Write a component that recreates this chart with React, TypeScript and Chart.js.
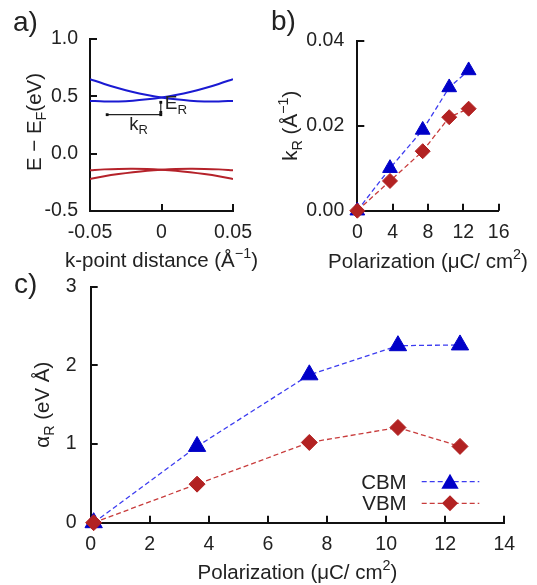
import React, { useEffect, useRef } from 'react';
import { Chart, registerables } from 'chart.js';

Chart.register(...registerables);

const FONT = "'Liberation Sans', Arial, Helvetica, sans-serif";
const TEXT = '#222222';
const AXIS = '#111111';
const BLUE = '#0000c8';
const RED = '#b22222';
const BLUE_LINE = '#3c3cf0';
const RED_LINE = '#c83c3c';
const BAND_BLUE = '#1a1ad2';
const BAND_RED = '#b5222a';

// ---------- a) band structure ----------
const kPoints = [-0.05, -0.04, -0.03, -0.02, -0.01, 0, 0.01, 0.02, 0.03, 0.04, 0.05];
const cbmBandA = [0.46, 0.456, 0.456, 0.462, 0.474, 0.49, 0.512, 0.538, 0.57, 0.608, 0.65];
const cbmBandB = [0.65, 0.608, 0.57, 0.538, 0.512, 0.49, 0.474, 0.462, 0.456, 0.456, 0.46];
const vbmBandA = [-0.22, -0.197, -0.178, -0.162, -0.149, -0.14, -0.134, -0.132, -0.133, -0.137, -0.145];
const vbmBandB = [-0.145, -0.137, -0.133, -0.132, -0.134, -0.14, -0.149, -0.162, -0.178, -0.197, -0.22];
const kRMarkerK = [-0.038, -0.0005];
const kRMarkerE = [0.34, 0.34];
const eRMarkerK = [-0.0005, -0.0005];
const eRMarkerE = [0.448, 0.36];
const aXTicks = [-0.05, 0, 0.05];
const aXTickLabels = ['-0.05', '0', '0.05'];
const aYTicks = [-0.5, 0, 0.5, 1.0];
const aYTickLabels = ['-0.5', '0.0', '0.5', '1.0'];

// ---------- b) k_R vs polarization ----------
const polarizationB = [0, 3.7, 7.4, 10.4, 12.6];
const kRCBM = [0, 0.01, 0.019, 0.029, 0.033];
const kRVBM = [0, 0.007, 0.014, 0.022, 0.024];
const bXTicks = [0, 4, 8, 12, 16];
const bXTickLabels = ['0', '4', '8', '12', '16'];
const bYTicks = [0, 0.02, 0.04];
const bYTickLabels = ['0.00', '0.02', '0.04'];

// ---------- c) alpha_R vs polarization ----------
const polarizationC = [0.1, 3.6, 7.4, 10.4, 12.5];
const alphaCBM = [0, 0.97, 1.88, 2.25, 2.26];
const alphaVBM = [0, 0.49, 1.02, 1.21, 0.97];
const cXTicks = [0, 2, 4, 6, 8, 10, 12, 14];
const cXTickLabels = ['0', '2', '4', '6', '8', '10', '12', '14'];
const cYTicks = [0, 1, 2, 3];
const cYTickLabels = ['0', '1', '2', '3'];
const legendLabels = ['CBM', 'VBM'];

type Seg = { t: string; s?: 'sub' | 'sup' };

const pts = (xs: number[], ys: number[]) => xs.map((x, i) => ({ x, y: ys[i] }));

function drawRich(
  ctx: CanvasRenderingContext2D,
  segs: Seg[],
  x: number,
  y: number,
  size: number,
  align: 'left' | 'center' | 'right',
  rotate = false
) {
  ctx.save();
  ctx.translate(x, y);
  if (rotate) ctx.rotate(-Math.PI / 2);
  const small = size * 0.7;
  let total = 0;
  const widths = segs.map((sg) => {
    ctx.font = `${sg.s ? small : size}px ${FONT}`;
    const w = ctx.measureText(sg.t).width;
    total += w;
    return w;
  });
  let cx = align === 'center' ? -total / 2 : align === 'right' ? -total : 0;
  ctx.fillStyle = TEXT;
  ctx.textAlign = 'left';
  ctx.textBaseline = 'alphabetic';
  segs.forEach((sg, i) => {
    ctx.font = `${sg.s ? small : size}px ${FONT}`;
    const dy = sg.s === 'sub' ? size * 0.25 : sg.s === 'sup' ? -size * 0.42 : 0;
    ctx.fillText(sg.t, cx, dy);
    cx += widths[i];
  });
  ctx.restore();
}

const inwardTicks = {
  id: 'inwardTicks',
  beforeDatasetsDraw(chart: any) {
    const { ctx, chartArea } = chart;
    const xs = chart.scales.x;
    const ys = chart.scales.y;
    ctx.save();
    ctx.strokeStyle = AXIS;
    ctx.lineWidth = 2;
    xs.ticks.forEach((t: any) => {
      const px = Math.round(xs.getPixelForValue(t.value));
      ctx.beginPath();
      ctx.moveTo(px, chartArea.bottom);
      ctx.lineTo(px, chartArea.bottom - 7);
      ctx.stroke();
    });
    ys.ticks.forEach((t: any) => {
      const py = Math.round(ys.getPixelForValue(t.value));
      ctx.beginPath();
      ctx.moveTo(chartArea.left, py);
      ctx.lineTo(chartArea.left + 7, py);
      ctx.stroke();
    });
    ctx.restore();
  },
};

function makeScale(
  axis: 'x' | 'y',
  min: number,
  max: number,
  values: number[],
  labels: string[],
  padding: number
) {
  return {
    type: 'linear',
    min,
    max,
    grid: { display: false, drawTicks: false },
    border: { display: true, color: AXIS, width: 2 },
    ticks: {
      color: TEXT,
      font: { family: FONT, size: 19.5 },
      padding,
      autoSkip: false,
      maxRotation: 0,
      callback: (_v: any, i: number) => labels[i],
    },
    afterBuildTicks: (s: any) => {
      s.ticks = values.map((v) => ({ value: v }));
    },
    afterFit: (s: any) => {
      if (axis === 'x') s.height = 40;
      else s.width = 60;
    },
  };
}

function baseOptions(padding: any, scales: any) {
  return {
    responsive: false,
    animation: false,
    devicePixelRatio: 1,
    events: [],
    layout: { padding },
    plugins: { legend: { display: false }, tooltip: { enabled: false } },
    scales,
  };
}

function drawTri(ctx: CanvasRenderingContext2D, x: number, y: number, r: number) {
  ctx.beginPath();
  ctx.moveTo(x, y - r);
  ctx.lineTo(x + 0.866 * r, y + 0.5 * r);
  ctx.lineTo(x - 0.866 * r, y + 0.5 * r);
  ctx.closePath();
  ctx.fill();
}

function drawDiamond(ctx: CanvasRenderingContext2D, x: number, y: number, r: number) {
  ctx.beginPath();
  ctx.moveTo(x - r, y);
  ctx.lineTo(x, y - r);
  ctx.lineTo(x + r, y);
  ctx.lineTo(x, y + r);
  ctx.closePath();
  ctx.fill();
}

export default function App() {
  const refA = useRef<HTMLCanvasElement>(null);
  const refB = useRef<HTMLCanvasElement>(null);
  const refC = useRef<HTMLCanvasElement>(null);

  useEffect(() => {
    const bandDs = (ys: number[], color: string) => ({
      data: pts(kPoints, ys),
      showLine: true,
      borderColor: color,
      borderWidth: 2,
      pointRadius: 0,
      tension: 0.35,
      fill: false,
    });
    const markerDs = (xs: number[], ys: number[]) => ({
      data: pts(xs, ys),
      showLine: true,
      borderColor: '#222',
      borderWidth: 1.2,
      pointStyle: 'rect',
      pointRadius: 2,
      pointBackgroundColor: '#111',
      pointBorderWidth: 0,
      clip: false,
    });

    const chartA = new Chart(refA.current as HTMLCanvasElement, {
      type: 'scatter',
      data: {
        datasets: [
          bandDs(cbmBandA, BAND_BLUE),
          bandDs(cbmBandB, BAND_BLUE),
          bandDs(vbmBandA, BAND_RED),
          bandDs(vbmBandB, BAND_RED),
          markerDs(kRMarkerK, kRMarkerE),
          markerDs(eRMarkerK, eRMarkerE),
        ] as any,
      },
      options: baseOptions(
        { left: 30, top: 39, right: 304, bottom: 334 },
        {
          x: makeScale('x', -0.05, 0.05, aXTicks, aXTickLabels, 10),
          y: makeScale('y', -0.5, 1.0, aYTicks, aYTickLabels, 12),
        }
      ) as any,
      plugins: [
        inwardTicks,
        {
          id: 'textA',
          afterDraw(chart: any) {
            const { ctx, chartArea } = chart;
            const xs = chart.scales.x;
            const ys = chart.scales.y;
            drawRich(ctx, [{ t: 'a)' }], 13, 31, 28, 'left');
            drawRich(ctx, [{ t: 'k-point distance (Å' }, { t: '−1', s: 'sup' }, { t: ')' }],
              (chartArea.left + chartArea.right) / 2, 267, 20.5, 'center');
            drawRich(ctx, [{ t: 'E − E' }, { t: 'F', s: 'sub' }, { t: '(eV)' }],
              40.5, 122, 20.5, 'center', true);
            drawRich(ctx, [{ t: 'k' }, { t: 'R', s: 'sub' }],
              xs.getPixelForValue(kRMarkerK[0]) + 22, ys.getPixelForValue(kRMarkerE[0]) + 15, 18.5, 'left');
            drawRich(ctx, [{ t: 'E' }, { t: 'R', s: 'sub' }],
              xs.getPixelForValue(eRMarkerK[0]) + 4, ys.getPixelForValue(eRMarkerE[1]) - 3, 19, 'left');
          },
        },
      ],
    });

    const polyDs = (xs: number[], ys: number[], line: string, fillC: string, style: string, r: number) => ({
      data: pts(xs, ys),
      showLine: true,
      borderColor: line,
      borderWidth: 1.3,
      borderDash: [5, 3],
      pointStyle: style,
      pointRadius: r,
      pointBackgroundColor: fillC,
      pointBorderColor: fillC,
      pointBorderWidth: 1,
      clip: false,
    });

    const chartB = new Chart(refB.current as HTMLCanvasElement, {
      type: 'scatter',
      data: {
        datasets: [
          polyDs(polarizationB, kRVBM, RED_LINE, RED, 'rectRot', 7.5),
          polyDs(polarizationB, kRCBM, BLUE_LINE, BLUE, 'triangle', 8.5),
        ] as any,
      },
      options: baseOptions(
        { left: 297.3, top: 40.7, right: 38.3, bottom: 334.3 },
        {
          x: makeScale('x', 0, 16, bXTicks, bXTickLabels, 10),
          y: makeScale('y', 0, 0.04, bYTicks, bYTickLabels, 13),
        }
      ) as any,
      plugins: [
        inwardTicks,
        {
          id: 'textB',
          afterDraw(chart: any) {
            const { ctx, chartArea } = chart;
            drawRich(ctx, [{ t: 'b)' }], 271, 30, 28, 'left');
            drawRich(ctx, [{ t: 'Polarization (μC/ cm' }, { t: '2', s: 'sup' }, { t: ')' }],
              (chartArea.left + chartArea.right) / 2, 268, 20.5, 'center');
            drawRich(ctx, [{ t: 'k' }, { t: 'R', s: 'sub' }, { t: ' (Å' }, { t: '−1', s: 'sup' }, { t: ')' }],
              297, (chartArea.top + chartArea.bottom) / 2, 20.5, 'center', true);
          },
        },
      ],
    });

    const chartC = new Chart(refC.current as HTMLCanvasElement, {
      type: 'scatter',
      data: {
        datasets: [
          polyDs(polarizationC, alphaVBM, RED_LINE, RED, 'rectRot', 8),
          polyDs(polarizationC, alphaCBM, BLUE_LINE, BLUE, 'triangle', 10),
        ] as any,
      },
      options: baseOptions(
        { left: 30.7, top: 286.7, right: 32.7, bottom: 22.3 },
        {
          x: makeScale('x', 0, 14, cXTicks, cXTickLabels, 10),
          y: makeScale('y', 0, 3, cYTicks, cYTickLabels, 14),
        }
      ) as any,
      plugins: [
        inwardTicks,
        {
          id: 'textC',
          afterDraw(chart: any) {
            const { ctx, chartArea } = chart;
            drawRich(ctx, [{ t: 'c)' }], 14, 293, 28, 'left');
            drawRich(ctx, [{ t: 'Polarization (μC/ cm' }, { t: '2', s: 'sup' }, { t: ')' }],
              (chartArea.left + chartArea.right) / 2, 579, 20.5, 'center');
            drawRich(ctx, [{ t: 'α' }, { t: 'R', s: 'sub' }, { t: ' (eV Å)' }],
              49, (chartArea.top + chartArea.bottom) / 2, 20.5, 'center', true);
            // legend
            const rows = [
              { label: legendLabels[0], y: 481.7, line: BLUE_LINE, fill: BLUE, tri: true },
              { label: legendLabels[1], y: 503.3, line: RED_LINE, fill: RED, tri: false },
            ];
            rows.forEach((r) => {
              drawRich(ctx, [{ t: r.label }], 406.7, r.y + 7, 20.5, 'right');
              ctx.save();
              ctx.strokeStyle = r.line;
              ctx.lineWidth = 1.3;
              ctx.setLineDash([5, 3]);
              ctx.beginPath();
              ctx.moveTo(421.7, r.y);
              ctx.lineTo(479.3, r.y);
              ctx.stroke();
              ctx.setLineDash([]);
              ctx.fillStyle = r.fill;
              if (r.tri) drawTri(ctx, 450, r.y + 2, 10);
              else drawDiamond(ctx, 450, r.y, 8);
              ctx.restore();
            });
          },
        },
      ],
    });

    return () => {
      chartA.destroy();
      chartB.destroy();
      chartC.destroy();
    };
  }, []);

  const cs: React.CSSProperties = { position: 'absolute', left: 0, top: 0, width: 537, height: 585 };
  return (
    <div style={{ position: 'fixed', left: 0, top: 0, width: 537, height: 585, background: '#fff' }}>
      <canvas ref={refA} width={537} height={585} style={cs} />
      <canvas ref={refB} width={537} height={585} style={cs} />
      <canvas ref={refC} width={537} height={585} style={cs} />
    </div>
  );
}
